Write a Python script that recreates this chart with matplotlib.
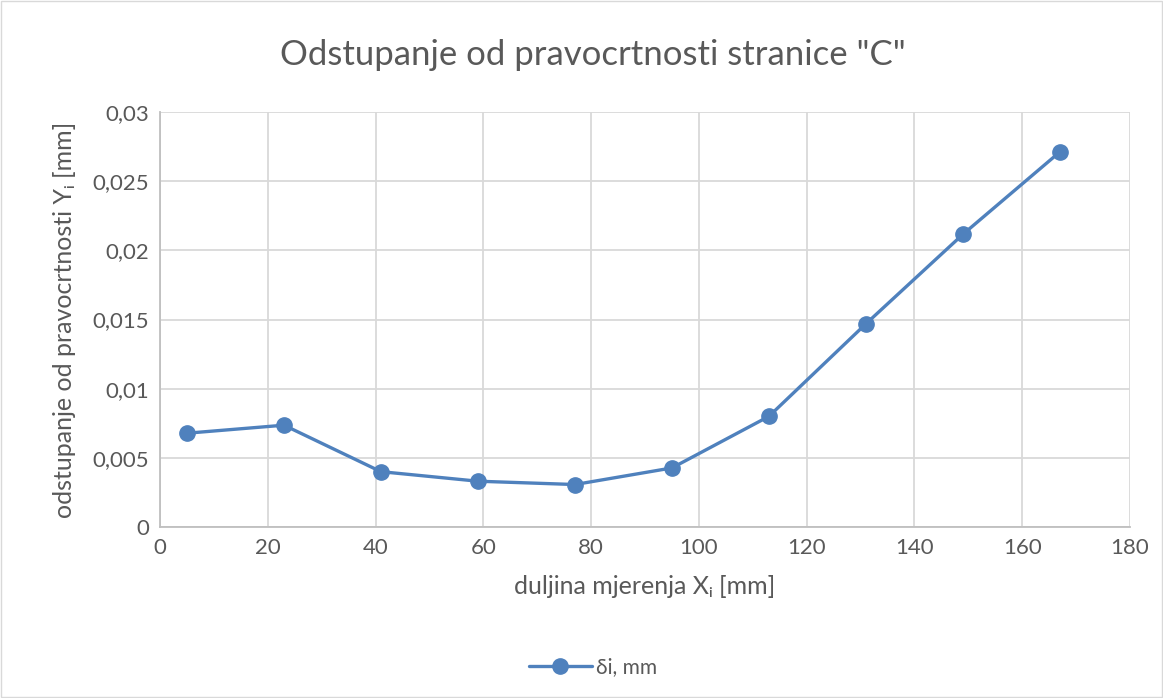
import matplotlib
matplotlib.use("Agg")
import matplotlib.pyplot as plt
from matplotlib.ticker import MultipleLocator, FuncFormatter

x_vals = [5, 23, 41, 59, 77, 95, 113, 131, 149, 167]
y_vals = [0.00678, 0.00736, 0.00400, 0.00331, 0.00307, 0.00427, 0.00800, 0.01469, 0.02116, 0.02712]
series_label = "δi, mm"
title = 'Odstupanje od pravocrtnosti stranice "C"'
xlabel = "duljina mjerenja Xᵢ [mm]"
ylabel = "odstupanje od pravocrtnosti Yᵢ [mm]"

plt.rcParams['font.family'] = ['Lato', 'DejaVu Sans']
txt = '#595959'
W, H = 1163, 698
fig = plt.figure(figsize=(W/100, H/100), dpi=100)
ax = fig.add_axes([160/W, 1-527/H, (1130-160)/W, (527-112)/H])

ax.plot(x_vals, y_vals, color='#4F81BD', lw=2.4, marker='o', ms=11, label=series_label, solid_capstyle='round')
ax.set_xlim(0, 180)
ax.set_ylim(0, 0.03)
ax.xaxis.set_major_locator(MultipleLocator(20))
ax.yaxis.set_major_locator(MultipleLocator(0.005))
ax.yaxis.set_major_formatter(FuncFormatter(lambda v, p: ('%g' % round(v, 4)).replace('.', ',')))
ax.grid(True, color='#D9D9D9', lw=1.3)
ax.set_axisbelow(True)
for s in ['top', 'right']:
    ax.spines[s].set_visible(False)
for s in ['left', 'bottom']:
    ax.spines[s].set_color('#BFBFBF')
    ax.spines[s].set_linewidth(1.3)
ax.tick_params(length=0, labelsize=16, colors=txt, pad=8)

fig.text(593/W, 1-55/H, title, ha='center', va='center', fontsize=25, color=txt)
ax.set_xlabel(xlabel, fontsize=18, color=txt, labelpad=12, family=['Lato', 'DejaVu Sans'])
ax.set_ylabel(ylabel, fontsize=18, color=txt, labelpad=12, family=['Lato', 'DejaVu Sans'])

leg = fig.legend(loc='center', bbox_to_anchor=(593/W, 1-667/H), frameon=False,
                 fontsize=15, labelcolor=txt, handlelength=3.0, handletextpad=0.2)

fig.add_artist(plt.Rectangle((1/W, 1/H), 1-2/W, 1-2/H, transform=fig.transFigure,
                             fill=False, edgecolor='#D9D9D9', lw=1))
fig.savefig('out.png', dpi=100, facecolor='white')
